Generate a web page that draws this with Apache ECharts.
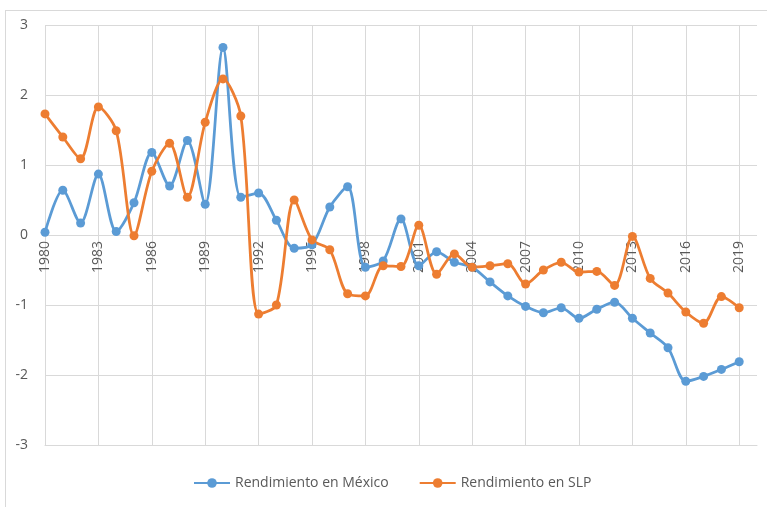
<!DOCTYPE html>
<html>
<head>
<meta charset="utf-8">
<script src="https://cdn.jsdelivr.net/npm/echarts@6/dist/echarts.min.js"></script>
<style>
  html, body { margin: 0; padding: 0; background: #fff; }
  #chart { width: 767px; height: 507px; position: relative; }
  .frame {
    position: absolute; left: 5px; top: 10px; right: 0; bottom: 0;
    border-left: 1px solid #d9d9d9; border-top: 1px solid #d9d9d9;
    pointer-events: none;
  }
</style>
</head>
<body>
<div style="position: relative; width: 767px; height: 507px;">
  <div id="chart"></div>
  <div class="frame"></div>
</div>
<script>
const years = [
  '1980', '1981', '1982', '1983', '1984', '1985', '1986', '1987', '1988', '1989',
  '1990', '1991', '1992', '1993', '1994', '1995', '1996', '1997', '1998', '1999',
  '2000', '2001', '2002', '2003', '2004', '2005', '2006', '2007', '2008', '2009',
  '2010', '2011', '2012', '2013', '2014', '2015', '2016', '2017', '2018', '2019',
]

const mexico = [
  0.04, 0.64, 0.17, 0.87, 0.05, 0.46, 1.18, 0.70, 1.35, 0.44,
  2.68, 0.54, 0.60, 0.21, -0.19, -0.14, 0.40, 0.69, -0.46, -0.37,
  0.23, -0.44, -0.24, -0.39, -0.46, -0.67, -0.87, -1.02, -1.11, -1.04,
  -1.19, -1.06, -0.96, -1.19, -1.40, -1.61, -2.09, -2.02, -1.92, -1.81,
]

const slp = [
  1.73, 1.40, 1.09, 1.83, 1.49, -0.01, 0.91, 1.31, 0.54, 1.61,
  2.23, 1.70, -1.13, -1.00, 0.50, -0.07, -0.21, -0.84, -0.87, -0.44,
  -0.45, 0.14, -0.56, -0.27, -0.46, -0.44, -0.41, -0.70, -0.50, -0.39,
  -0.53, -0.52, -0.72, -0.02, -0.62, -0.83, -1.10, -1.26, -0.88, -1.04,
]

const yTicks = { min: -3, max: 3, step: 1 }

const gridColor = '#d9d9d9'
const textColor = '#595959'
const font = '"Open Sans", "Liberation Sans", sans-serif'

function lineSeries(name, data, color) {
  return {
    name,
    type: 'line',
    data,
    smooth: 0.3,
    symbol: 'circle',
    symbolSize: 9,
    lineStyle: { color, width: 2.75 },
    itemStyle: { color },
  }
}

const chart = echarts.init(document.getElementById('chart'), null, { renderer: 'canvas' })
chart.setOption({
  animation: false,
  textStyle: { fontFamily: font },
  grid: { left: 45, right: 10, top: 25, bottom: 62, containLabel: false },
  legend: {
    left: 188,
    top: 471,
    itemWidth: 36,
    itemHeight: 12,
    itemGap: 30,
    textStyle: { color: textColor, fontSize: 14, fontFamily: font },
    data: ['Rendimiento en México', 'Rendimiento en SLP'],
  },
  xAxis: {
    type: 'category',
    boundaryGap: false,
    // one empty step past 2019 so the plot area runs on a little to the right
    data: years.concat(['']),
    axisLine: { onZero: false, lineStyle: { color: gridColor, width: 1 } },
    axisTick: { show: false },
    axisLabel: {
      interval: 2,
      rotate: 90,
      // labels sit just under the zero line, as in the original
      margin: -204,
      color: textColor,
      fontSize: 14,
      fontFamily: font,
    },
    splitLine: { show: true, interval: 2, lineStyle: { color: gridColor, width: 1 } },
  },
  yAxis: {
    type: 'value',
    min: yTicks.min,
    max: yTicks.max,
    interval: yTicks.step,
    axisLine: { show: false },
    axisTick: { show: false },
    axisLabel: { color: textColor, fontSize: 14, margin: 17, fontFamily: font },
    splitLine: { lineStyle: { color: gridColor, width: 1 } },
  },
  series: [
    lineSeries('Rendimiento en México', mexico, '#5b9bd5'),
    lineSeries('Rendimiento en SLP', slp, '#ed7d31'),
  ],
})
</script>
</body>
</html>
